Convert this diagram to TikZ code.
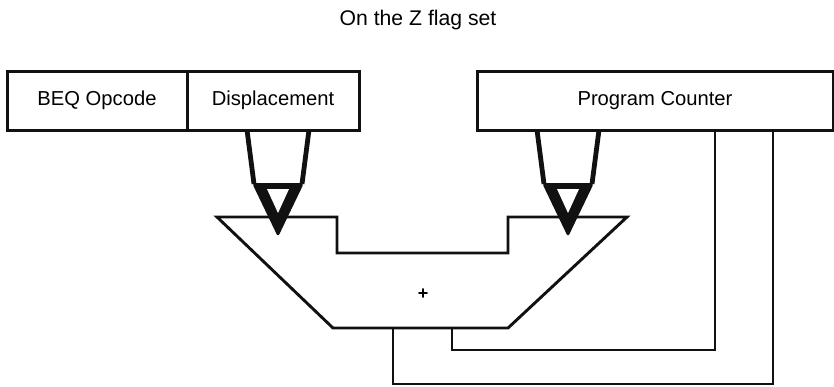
\documentclass[tikz,border=0pt]{standalone}
\usepackage{fontspec}
\setmainfont{Liberation Sans}
\usetikzlibrary{positioning}
\definecolor{ink}{HTML}{111111}
\tikzset{
 feed/.pic={
  \draw[ink,line width=2.4pt] (-31,0) -- (-24,54) (31,0) -- (24,54);
  \fill[ink,rounded corners=1.5pt] (-26,53) -- (26,53) -- (0,107) -- cycle;
  \fill[white] (-11,59) -- (11,59) -- (0,83) -- cycle;
 }
}

\begin{document}
\begin{tikzpicture}[x=0.5pt,y=-0.5pt,font=\fontsize{10.1}{12}\selectfont,
 reg/.style={draw=ink,line width=1.5pt,minimum height=29.5pt,inner sep=0pt,outer sep=0pt},
 wire/.style={draw=ink,line width=1.45pt}]
\useasboundingbox (0,0) rectangle (834,386);

\node[anchor=base,font=\fontsize{10.6}{12}\selectfont] (cond) at (418,25) {On the Z flag set};

\node[reg,minimum width=90pt,anchor=north west] (beq) at (7,71) {BEQ Opcode};
\node[reg,minimum width=86pt,right=0pt of beq] (disp) {Displacement};
\node[reg,minimum width=178pt,anchor=north west] (pc) at (477,71) {Program Counter};

\draw[wire] (217,217) -- (337,217) -- (337,253) -- (508,253) -- (508,217) -- (627,217) -- (508,328) -- (333,328) -- cycle;
\node[font=\fontsize{9}{10}\selectfont\bfseries] (plus) at (423,294) {+};
\coordinate (sumL) at (393,328);
\coordinate (sumR) at (452,328);
\coordinate (tapA) at (715,350);
\coordinate (tapB) at (773,384);

\pic at (278,130) {feed};
\pic at (568,130) {feed};

\draw[wire] (pc.south -| tapA) -- (tapA) -| (sumR);
\draw[wire] (pc.south -| tapB) -- (tapB) -| (sumL);

\end{tikzpicture}
\end{document}
